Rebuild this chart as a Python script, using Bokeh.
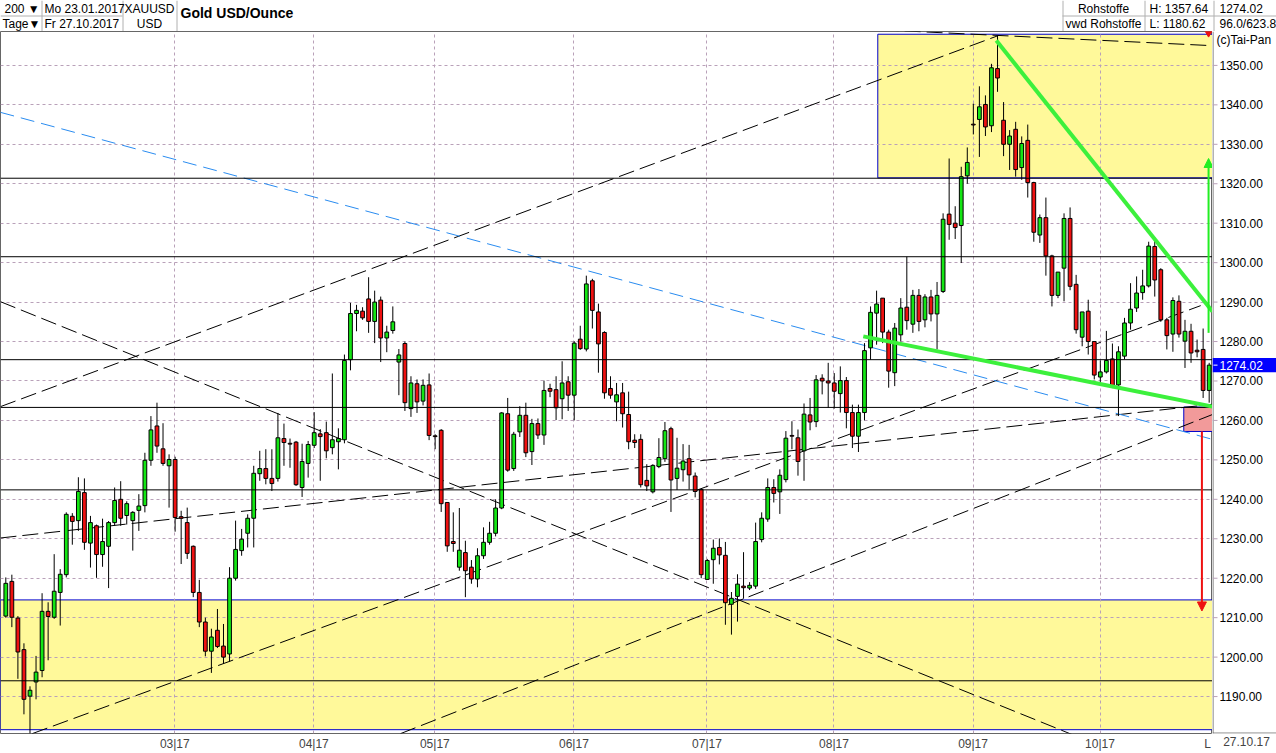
import pandas as pd
from bokeh.plotting import figure
from bokeh.layouts import column, row
from bokeh.models import (Range1d, FixedTicker, Grid, Arrow, NormalHead)
from bokeh.core.properties import value
from bokeh.embed import file_html
from bokeh.resources import INLINE

# ---------------- data ----------------
dates = pd.bdate_range("2017-01-23", "2017-10-27")   # 200 trading days

opens = [1210.4, 1219.2, 1209.9, 1201.9, 1190.1, 1193.7, 1196.6, 1211.6, 1210.1, 1216.4,
         1220.9, 1235.7, 1234.6, 1241.7, 1228.9, 1233.3, 1226.0, 1228.1, 1234.1, 1240.0,
         1235.9, 1234.6, 1237.2, 1238.4, 1249.9, 1258.6, 1252.8, 1248.5, 1250.1, 1235.6,
         1234.1, 1228.1, 1216.4, 1208.9, 1201.5, 1206.8, 1202.8, 1200.8, 1220.0, 1227.0,
         1231.4, 1235.2, 1246.5, 1247.8, 1245.3, 1245.3, 1255.4, 1254.2, 1254.5, 1243.0,
         1249.1, 1253.7, 1256.6, 1256.9, 1253.1, 1254.6, 1255.1, 1275.4, 1287.1, 1287.7,
         1290.8, 1285.1, 1290.5, 1280.9, 1282.8, 1274.8, 1279.5, 1263.0, 1269.3, 1264.9,
         1269.0, 1256.1, 1257.5, 1239.2, 1229.3, 1222.8, 1226.5, 1222.8, 1219.8, 1225.7,
         1229.1, 1231.4, 1237.8, 1261.7, 1247.8, 1257.1, 1261.3, 1252.1, 1259.2, 1256.3,
         1268.1, 1267.8, 1265.5, 1269.8, 1266.4, 1280.6, 1278.1, 1295.4, 1287.5, 1282.3,
         1268.1, 1264.7, 1267.0, 1261.5, 1255.0, 1255.2, 1244.8, 1241.9, 1248.3, 1250.3,
         1257.9, 1245.3, 1247.5, 1250.3, 1245.9, 1242.5, 1219.7, 1224.7, 1227.8, 1225.8,
         1213.4, 1215.4, 1218.0, 1217.5, 1218.0, 1229.8, 1235.0, 1243.0, 1241.9, 1245.0,
         1256.2, 1255.6, 1252.3, 1261.4, 1259.7, 1270.7, 1270.0, 1269.5, 1266.8, 1270.1,
         1262.0, 1256.0, 1262.0, 1278.4, 1287.2, 1291.0, 1282.4, 1272.1, 1281.7, 1288.7,
         1284.4, 1291.7, 1285.5, 1291.3, 1287.0, 1292.7, 1312.3, 1310.0, 1309.4, 1322.0,
         1335.1, 1336.3, 1340.1, 1334.7, 1349.2, 1336.1, 1330.0, 1333.8, 1324.1, 1331.0,
         1320.3, 1307.0, 1311.4, 1301.7, 1291.7, 1298.6, 1311.2, 1294.5, 1281.1, 1287.7,
         1280.0, 1271.0, 1272.3, 1275.6, 1269.0, 1276.3, 1284.7, 1288.5, 1292.4, 1294.1,
         1304.1, 1298.2, 1285.5, 1281.9, 1290.2, 1280.1, 1282.6, 1277.8, 1278.0, 1267.6]

highs = [1220.2, 1220.9, 1210.4, 1203.5, 1192.6, 1200.3, 1216.2, 1213.9, 1226.1, 1222.3,
         1236.7, 1236.5, 1245.6, 1245.3, 1235.8, 1233.6, 1235.1, 1234.5, 1243.0, 1244.6,
         1239.5, 1237.0, 1241.3, 1251.8, 1261.1, 1264.5, 1259.3, 1251.4, 1250.8, 1237.1,
         1237.9, 1228.3, 1219.6, 1210.0, 1207.2, 1212.2, 1208.4, 1222.8, 1234.6, 1232.5,
         1236.2, 1248.5, 1252.3, 1252.7, 1252.7, 1261.9, 1259.2, 1255.4, 1254.8, 1254.1,
         1254.8, 1262.1, 1257.8, 1259.7, 1271.9, 1258.0, 1276.7, 1289.8, 1289.3, 1288.7,
         1296.3, 1292.9, 1291.4, 1284.0, 1288.9, 1278.1, 1280.0, 1271.2, 1270.4, 1270.4,
         1271.9, 1256.5, 1257.8, 1239.2, 1236.7, 1237.8, 1229.5, 1224.6, 1227.6, 1232.9,
         1234.3, 1240.0, 1262.1, 1265.7, 1257.1, 1263.6, 1264.5, 1260.4, 1260.5, 1270.1,
         1269.3, 1271.2, 1275.0, 1271.2, 1280.1, 1284.0, 1296.7, 1295.9, 1289.6, 1282.6,
         1271.2, 1269.5, 1269.5, 1267.3, 1256.5, 1256.5, 1248.9, 1248.9, 1255.5, 1259.6,
         1258.4, 1255.6, 1254.0, 1253.8, 1246.8, 1242.5, 1224.9, 1229.8, 1230.1, 1229.2,
         1216.5, 1221.0, 1226.6, 1219.0, 1234.1, 1236.7, 1245.3, 1245.1, 1247.6, 1257.3,
         1259.8, 1257.7, 1264.3, 1265.7, 1271.5, 1271.7, 1274.6, 1272.0, 1273.7, 1271.0,
         1264.0, 1264.0, 1279.6, 1288.9, 1292.9, 1291.0, 1283.0, 1284.7, 1291.0, 1301.5,
         1293.1, 1293.3, 1292.0, 1293.1, 1295.1, 1312.5, 1326.4, 1314.3, 1324.3, 1329.2,
         1340.3, 1344.7, 1342.4, 1350.4, 1357.64, 1340.7, 1333.6, 1335.7, 1332.0, 1335.0,
         1320.5, 1312.2, 1316.5, 1302.0, 1297.6, 1312.5, 1314.0, 1296.9, 1287.5, 1290.6,
         1280.0, 1275.2, 1282.7, 1279.5, 1278.8, 1286.0, 1294.8, 1296.5, 1298.2, 1305.3,
         1306.4, 1298.6, 1286.0, 1291.2, 1291.7, 1285.5, 1284.5, 1280.5, 1283.3, 1274.6]

lows = [1210.0, 1207.6, 1194.5, 1185.5, 1180.62, 1189.3, 1194.9, 1199.2, 1209.7, 1208.0,
        1220.2, 1228.5, 1232.0, 1227.2, 1222.7, 1220.1, 1222.9, 1217.5, 1233.3, 1233.3,
        1233.6, 1227.0, 1232.0, 1236.7, 1248.5, 1251.8, 1248.5, 1237.9, 1231.8, 1223.6,
        1224.9, 1215.2, 1207.6, 1200.2, 1196.0, 1202.3, 1198.3, 1198.9, 1219.4, 1225.7,
        1227.8, 1227.8, 1244.7, 1243.8, 1242.1, 1244.5, 1248.5, 1248.0, 1243.4, 1240.6,
        1245.5, 1253.0, 1244.7, 1250.4, 1251.4, 1247.6, 1254.2, 1272.7, 1282.6, 1285.5,
        1282.2, 1279.6, 1274.8, 1277.3, 1282.0, 1266.4, 1262.4, 1260.9, 1261.9, 1263.8,
        1255.0, 1252.7, 1236.8, 1226.7, 1226.7, 1221.9, 1215.2, 1218.6, 1217.7, 1224.9,
        1228.5, 1230.6, 1237.5, 1247.0, 1247.2, 1255.8, 1250.7, 1248.7, 1255.3, 1253.8,
        1265.9, 1260.1, 1260.3, 1262.4, 1260.0, 1277.9, 1277.5, 1283.3, 1272.1, 1265.5,
        1265.5, 1259.8, 1258.2, 1252.7, 1253.0, 1243.0, 1242.1, 1241.5, 1247.9, 1249.5,
        1236.8, 1242.4, 1244.5, 1242.5, 1240.5, 1220.0, 1219.6, 1218.6, 1223.5, 1208.2,
        1205.7, 1209.0, 1214.8, 1217.0, 1217.3, 1229.1, 1234.3, 1239.2, 1236.3, 1244.3,
        1252.7, 1246.0, 1244.7, 1257.5, 1258.3, 1266.6, 1263.2, 1263.0, 1262.0, 1258.0,
        1253.0, 1252.0, 1260.0, 1275.4, 1279.2, 1279.6, 1268.3, 1268.7, 1280.0, 1283.0,
        1282.2, 1282.6, 1283.6, 1285.1, 1278.0, 1292.3, 1305.8, 1306.0, 1299.9, 1320.0,
        1332.5, 1326.8, 1332.1, 1333.1, 1343.3, 1327.0, 1323.5, 1321.8, 1321.0, 1316.5,
        1305.3, 1305.0, 1296.7, 1288.9, 1291.0, 1290.2, 1293.0, 1282.0, 1278.8, 1276.7,
        1270.4, 1269.5, 1271.9, 1268.2, 1261.1, 1275.5, 1283.0, 1287.5, 1290.6, 1293.7,
        1291.4, 1285.0, 1278.0, 1277.4, 1281.0, 1273.3, 1274.6, 1276.0, 1265.7, 1264.5]

closes = [1218.7, 1210.1, 1201.3, 1189.3, 1191.6, 1196.2, 1211.6, 1210.3, 1216.7, 1221.0,
          1236.2, 1234.4, 1242.0, 1229.1, 1234.1, 1226.0, 1229.3, 1234.1, 1239.7, 1235.2,
          1238.9, 1236.7, 1238.3, 1249.9, 1257.6, 1253.5, 1249.1, 1250.1, 1235.4, 1235.2,
          1226.3, 1216.4, 1208.9, 1201.5, 1205.1, 1202.7, 1200.0, 1220.0, 1227.3, 1229.9,
          1235.2, 1246.6, 1247.8, 1245.3, 1244.0, 1255.6, 1254.4, 1254.0, 1243.7, 1249.6,
          1253.9, 1256.9, 1255.9, 1252.3, 1255.1, 1255.4, 1275.2, 1287.1, 1287.9, 1286.0,
          1285.1, 1290.0, 1280.9, 1282.4, 1285.0, 1276.6, 1264.5, 1269.5, 1264.7, 1268.9,
          1256.2, 1255.9, 1238.9, 1228.2, 1228.8, 1227.1, 1221.9, 1219.8, 1225.7, 1229.1,
          1231.4, 1237.8, 1261.9, 1247.4, 1256.5, 1261.3, 1251.8, 1259.2, 1256.3, 1267.6,
          1267.4, 1263.2, 1269.5, 1266.4, 1279.6, 1278.2, 1294.6, 1287.9, 1279.4, 1267.0,
          1266.4, 1266.5, 1261.7, 1254.6, 1254.4, 1243.7, 1243.4, 1248.6, 1250.6, 1257.4,
          1244.9, 1247.9, 1249.7, 1246.2, 1242.0, 1220.9, 1224.5, 1227.6, 1225.9, 1213.8,
          1214.9, 1218.5, 1217.6, 1218.2, 1229.3, 1235.2, 1243.0, 1241.5, 1246.1, 1255.5,
          1256.0, 1249.6, 1261.6, 1259.6, 1270.3, 1270.0, 1269.5, 1267.4, 1270.1, 1262.0,
          1256.0, 1262.0, 1277.7, 1287.4, 1289.5, 1282.4, 1272.5, 1283.4, 1288.5, 1285.3,
          1291.7, 1285.1, 1291.3, 1287.0, 1291.7, 1311.0, 1309.7, 1308.9, 1321.8, 1325.4,
          1334.9, 1339.5, 1334.4, 1349.4, 1346.8, 1330.0, 1332.1, 1323.6, 1330.2, 1320.3,
          1307.7, 1311.4, 1301.7, 1291.7, 1297.6, 1311.2, 1294.0, 1283.0, 1287.5, 1280.0,
          1271.5, 1272.3, 1275.2, 1268.7, 1277.4, 1284.7, 1288.2, 1292.3, 1294.1, 1304.2,
          1295.6, 1285.5, 1281.5, 1290.4, 1281.9, 1282.6, 1277.1, 1277.4, 1267.6, 1274.02]

price_ticks = [1190, 1200, 1210, 1220, 1230, 1240, 1250, 1260, 1270, 1280,
               1290, 1300, 1310, 1320, 1330, 1340, 1350]
last_price = 1274.02
last_date_label = "27.10.17"

# drawn analysis objects (x in trading-day index, y in USD)
h_levels = [1321.4, 1301.5, 1275.4, 1263.3, 1242.4, 1194.0]
band_low, band_high = 1181.6, 1214.5
top_zone = dict(left=144.2, bottom=1321.5, top=1357.9)
pink_zone = dict(left=194.8, bottom=1257.2, top=1263.4)
dash_x0 = [-0.88, 145.0, -0.88, 4.37, 65.27, -0.88]
dash_y0 = [1263.5, 1359.0, 1290.1, 1180.6, 1180.6, 1230.2]
dash_x1 = [164.2, 199.55, 199.55, 197.6, 199.55, 199.55]
dash_y1 = [1357.6, 1355.0, 1166.0, 1289.1, 1261.5, 1264.1]
blue_x = [-0.88, 199.55]
blue_y = [1338.1, 1255.2]
green_x0 = [163.8, 141.8]
green_y0 = [1356.3, 1281.3]
green_x1 = [199.55, 199.55]
green_y1 = [1287.6, 1263.5]
up_arrow = (198.9, 1282.2, 1326.4)
down_arrow = (197.8, 1257.2, 1211.7)
top_marker = (198.9, 1358.2)

# ---------------- layout helpers ----------------
FONT = "Liberation Sans"
W, H = 1276, 753
HEAD = 31          # header strip height
BOTTOM = 18        # date axis strip
RIGHT = 64         # price scale strip
PX_PER_USD = 3.956


def ref_price(ry):
    """price that sits at a given pixel row of the page"""
    return 1350 - (ry - 65) / PX_PER_USD


Y0, Y1 = ref_price(H - BOTTOM), ref_price(HEAD)
X0, X1 = -0.876, 199.55
GRID = "#B9A1B9"

idx = list(range(len(dates)))
month_pos, month_lab = [], []
for i in range(1, len(dates)):
    if dates[i].month != dates[i - 1].month and i > 20:
        month_pos.append(i + 0.95)
        month_lab.append(dates[i].strftime("%m|%y"))
last_pos = 198.73


def style_xaxis(fig):
    fig.xaxis.axis_line_color = None
    fig.xaxis.major_tick_out = 0
    fig.xaxis.major_tick_in = 0
    fig.xaxis.minor_tick_line_color = None
    fig.xaxis.major_label_text_font = FONT
    fig.xaxis.major_label_text_font_size = "12px"
    fig.xaxis.major_label_standoff = 3


# ---------------- header ----------------
head = figure(width=W, height=HEAD, x_range=Range1d(0, W), y_range=Range1d(HEAD, 0),
              output_backend="svg", toolbar_location=None, min_border=0,
              x_axis_location=None, y_axis_location=None)
head.grid.visible = False
head.outline_line_color = None
head.segment(x0=[41.5, 122.5, 176.5, 1062.5, 1144.5, 1213.5, 0, 1062],
             y0=[0, 0, 0, 0, 0, 0, 15.5, 15.5],
             x1=[41.5, 122.5, 176.5, 1062.5, 1144.5, 1213.5, 122, W],
             y1=[31, 31, 31, 31, 31, 31, 15.5, 15.5], line_color="#B0B0B0", line_width=1)
head.text(x=[4, 2, 44, 44, 1149, 1149, 1219, 1219],
          y=[8, 23, 8, 23, 8, 23, 8, 23],
          text=["200 \u25BC", "Tage\u25BC", "Mo 23.01.2017", "Fr 27.10.2017",
                "H: 1357.64", "L: 1180.62", "1274.02", "96.0/623.8"],
          text_font=value(FONT), text_font_size=value("12px"), text_baseline="middle",
          text_align="left", text_color="black")
head.text(x=[149, 149, 1103, 1103], y=[8, 23, 8, 23],
          text=["XAUUSD", "USD", "Rohstoffe", "vwd Rohstoffe"],
          text_font=value(FONT), text_font_size=value("12px"), text_baseline="middle",
          text_align="center", text_color="black")
head.text(x=[180], y=[12], text=["Gold USD/Ounce"], text_font=value(FONT),
          text_font_size=value("14px"), text_font_style="bold", text_baseline="middle",
          text_align="left", text_color="black")

# ---------------- main chart ----------------
p = figure(width=W - RIGHT, height=H - HEAD, x_range=Range1d(X0, X1), y_range=Range1d(Y0, Y1),
           y_axis_location=None, output_backend="svg", toolbar_location=None,
           min_border_left=0, min_border_right=0, min_border_top=0, min_border_bottom=BOTTOM,
           background_fill_color="white", border_fill_color="white")
p.outline_line_color = "#666666"

if len(p.ygrid) == 0:
    p.add_layout(Grid(dimension=1, ticker=FixedTicker(ticks=price_ticks)))
else:
    p.ygrid.ticker = FixedTicker(ticks=price_ticks)
p.xaxis.ticker = FixedTicker(ticks=month_pos + [last_pos])
p.xaxis.major_label_overrides = dict(list(zip(month_pos, month_lab)) + [(last_pos, "L")])
p.xgrid.ticker = FixedTicker(ticks=month_pos)
p.grid.grid_line_color = GRID
p.grid.grid_line_dash = "3 3"
p.grid.grid_line_width = 1
style_xaxis(p)

YELLOW = "#FFF99A"
BLUE = "#0000CC"
p.quad(left=X0, right=X1 + 1, bottom=band_low, top=band_high, fill_color=YELLOW,
       line_color=BLUE, line_width=1, level="image")
p.quad(left=top_zone["left"], right=X1 + 1, bottom=top_zone["bottom"], top=top_zone["top"],
       fill_color=YELLOW, line_color=BLUE, line_width=1, level="image")
p.quad(left=pink_zone["left"], right=X1 + 1, bottom=pink_zone["bottom"], top=pink_zone["top"],
       fill_color="#F29A9A", line_color=BLUE, line_width=1)

p.segment(x0=dash_x0, y0=dash_y0, x1=dash_x1, y1=dash_y1, line_color="black",
          line_width=1, line_dash="16 6")
p.line(blue_x, blue_y, line_color="#2A8CF0", line_width=1, line_dash="14 7")

GREEN, RED = "#14E614", "#EE1111"
body_top = [max(o, c) for o, c in zip(opens, closes)]
body_bot = [min(o, c) for o, c in zip(opens, closes)]
colors = [GREEN if c >= o else RED for o, c in zip(opens, closes)]
p.segment(x0=idx, y0=lows, x1=idx, y1=highs, line_color="black", line_width=1)
p.vbar(x=idx, width=0.62, top=body_top, bottom=body_bot, fill_color=colors,
       line_color="black", line_width=1)

p.segment(x0=[X0] * len(h_levels), y0=h_levels, x1=[X1 + 1] * len(h_levels), y1=h_levels,
          line_color="black", line_width=1)

p.segment(x0=green_x0, y0=green_y0, x1=green_x1, y1=green_y1, line_color="#3CF03C",
          line_width=4)

p.add_layout(Arrow(end=NormalHead(size=9, fill_color="#22EE22", line_color="#22EE22"),
                   x_start=up_arrow[0], y_start=up_arrow[1], x_end=up_arrow[0], y_end=up_arrow[2],
                   line_color="#22EE22", line_width=2))
p.add_layout(Arrow(end=NormalHead(size=9, fill_color="#EE1111", line_color="#EE1111"),
                   x_start=down_arrow[0], y_start=down_arrow[1], x_end=down_arrow[0],
                   y_end=down_arrow[2], line_color="#EE1111", line_width=2))
p.scatter(x=[top_marker[0]], y=[top_marker[1]], marker="inverted_triangle", size=7,
          fill_color="#EE1111", line_color="#EE1111")

# ---------------- price scale strip (same price scale as the chart) ----------------
XR = W - RIGHT
r = figure(width=RIGHT, height=H - HEAD, x_range=Range1d(XR, W), y_range=Range1d(Y0, Y1),
           output_backend="svg", toolbar_location=None, y_axis_location=None,
           min_border_left=0, min_border_right=0, min_border_top=0, min_border_bottom=BOTTOM,
           background_fill_color="white", border_fill_color="white")
r.grid.visible = False
r.outline_line_color = None
r.xaxis.ticker = FixedTicker(ticks=[XR + 34])
r.xaxis.major_label_overrides = {XR + 34: last_date_label}
style_xaxis(r)

r.segment(x0=[XR + 0.5], y0=[Y0], x1=[XR + 0.5], y1=[Y1], line_color="#666666")
r.segment(x0=[XR] * len(price_ticks), y0=price_ticks, x1=[XR + 5] * len(price_ticks),
          y1=price_ticks, line_color=GRID, line_width=1)
r.text(x=[XR + 7] * len(price_ticks), y=price_ticks, text=["%.2f" % t for t in price_ticks],
       text_font=value(FONT), text_font_size=value("12px"), text_baseline="middle",
       text_align="left", text_color="black")
r.quad(left=[XR], right=[W], bottom=[last_price - 1.8], top=[last_price + 1.8],
       fill_color="#0000FF", line_color=None)
r.segment(x0=[XR + 1], y0=[last_price], x1=[XR + 5], y1=[last_price], line_color="white")
r.text(x=[XR + 7], y=[last_price], text=["%.2f" % last_price], text_font=value(FONT),
       text_font_size=value("12px"), text_baseline="middle", text_align="left",
       text_color="white")
r.text(x=[XR + 4], y=[ref_price(40)], text=["(c)Tai-Pan"], text_font=value(FONT),
       text_font_size=value("12px"), text_baseline="middle", text_align="left",
       text_color="black")
r.segment(x0=[XR], y0=[Y0 + 0.1], x1=[W], y1=[Y0 + 0.1], line_color="#666666")

layout = column(head, row(p, r, spacing=0), spacing=0)
open("out.html", "w").write(file_html(layout, INLINE))
